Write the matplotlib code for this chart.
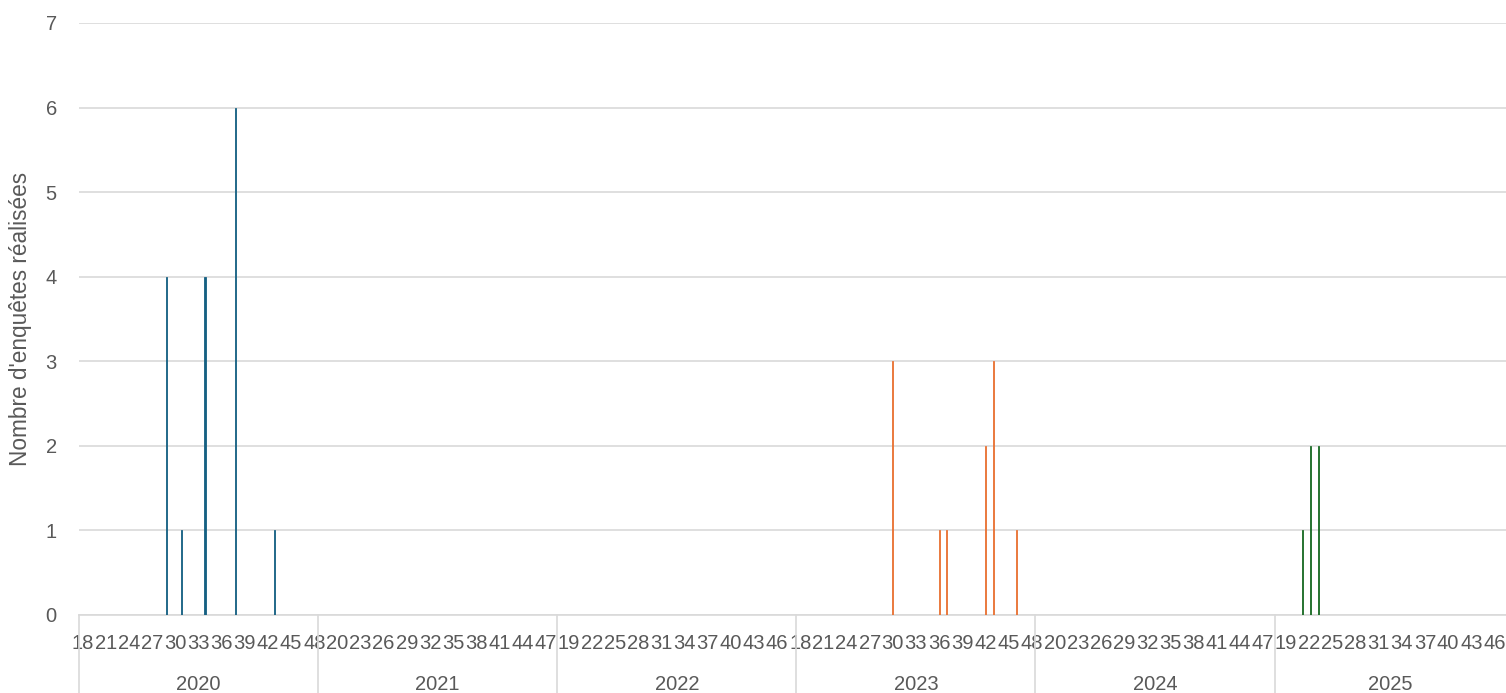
import matplotlib
matplotlib.use("Agg")
import matplotlib.pyplot as plt
import matplotlib.transforms as mtransforms

# ---- data ----
years = [2020, 2021, 2022, 2023, 2024, 2025]
first_week = [18, 18, 18, 18, 18, 18]
last_week = [48, 48, 48, 48, 48, 47]

s2020_weeks = [29, 31, 34, 38, 43]
s2020_values = [4, 1, 4, 6, 1]
s2023_weeks = [30, 36, 37, 42, 43, 46]
s2023_values = [3, 1, 1, 2, 3, 1]
s2025_weeks = [21, 22, 23]
s2025_values = [1, 2, 2]

y_label = "Nombre d'enquêtes réalisées"
label_step = 3

# ---- categories ----
cats = []
for y, a, b in zip(years, first_week, last_week):
    for w in range(a, b + 1):
        cats.append((y, w))
index = {c: i for i, c in enumerate(cats)}

TXT = "#595959"
GRID = "#D9D9D9"
FONT = ["Liberation Sans", "DejaVu Sans"]
plt.rcParams["font.family"] = FONT
FS = 14.5

fig = plt.figure(figsize=(15.06, 6.93), dpi=100)
axes_h_px = (615 - 23)
ax = fig.add_axes([79 / 1506, 78 / 693, 1 - 79 / 1506, axes_h_px / 693])

series = [
    (2020, s2020_weeks, s2020_values, "#156082", -0.16),
    (2023, s2023_weeks, s2023_values, "#E97132", 0.0),
    (2025, s2025_weeks, s2025_values, "#196B24", 0.16),
]
for yr, wks, vals, col, off in series:
    xs = [index[(yr, w)] + off for w in wks]
    ax.bar(xs, vals, width=0.14, color=col, edgecolor=col, linewidth=0.6, zorder=3)

ax.set_xlim(-0.5, len(cats) - 0.5)
ax.set_ylim(0, 7)
ax.set_yticks(range(0, 8))
ax.yaxis.grid(True, color=GRID, linewidth=1.2, zorder=0)
ax.set_axisbelow(True)
for s in ["top", "right", "left"]:
    ax.spines[s].set_visible(False)
ax.spines["bottom"].set_color(GRID)
ax.spines["bottom"].set_linewidth(1.2)
ax.tick_params(axis="y", length=0, labelsize=FS, labelcolor=TXT, pad=16)

tick_pos = list(range(0, len(cats), label_step))
ax.set_xticks(tick_pos)
ax.set_xticklabels([str(cats[i][1]) for i in tick_pos])
ax.tick_params(axis="x", length=0, labelsize=FS, labelcolor=TXT, pad=14)

ax.set_ylabel(y_label, fontsize=16.3, color=TXT)
ax.yaxis.set_label_coords(-47 / 1427, 0.5)

# multi-level category axis
trans = mtransforms.blended_transform_factory(ax.transData, ax.transAxes)
start = 0
bounds = []
for y, a, b in zip(years, first_week, last_week):
    n = b - a + 1
    bounds.append((start, start + n))
    start += n
bottom_frac = -78 / axes_h_px
for (s0, s1), y in zip(bounds, years):
    ax.plot([s0 - 0.5, s0 - 0.5], [0, bottom_frac], transform=trans, color=GRID,
            linewidth=1.2, clip_on=False)
    ax.text((s0 + s1 - 1) / 2, -70 / axes_h_px, str(y), transform=trans,
            ha="center", va="center", fontsize=FS, color=TXT)

fig.savefig("out.png", dpi=100)
